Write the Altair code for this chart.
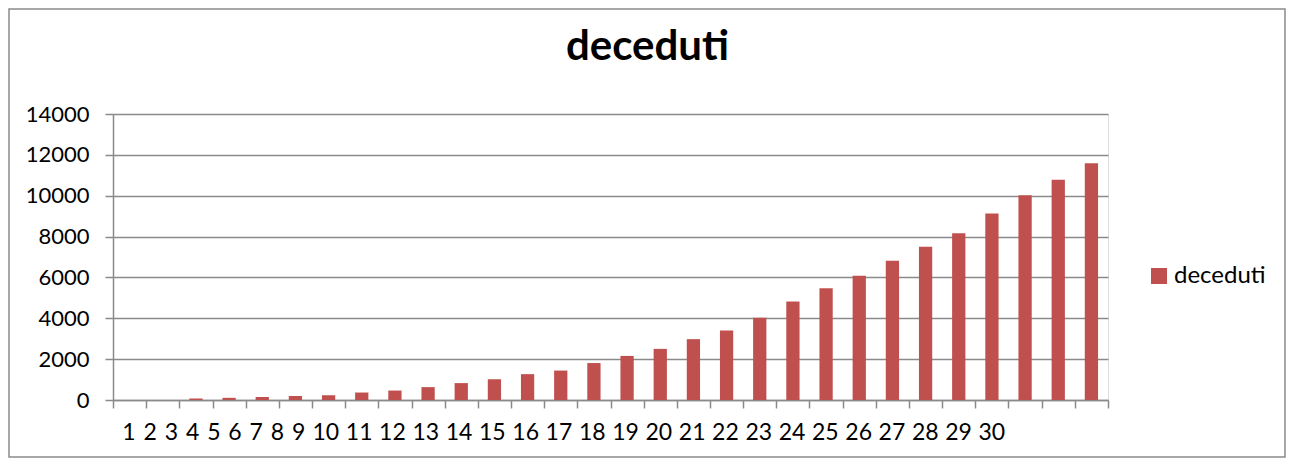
import altair as alt
import pandas as pd

# ---- data ----
giorni = list(range(1, 31))
deceduti = [0, 0, 79, 107, 148, 197, 233, 366, 463, 631, 827, 1016, 1266, 1441, 1809,
            2158, 2503, 2978, 3405, 4032, 4825, 5476, 6077, 6820, 7503, 8165, 9134,
            10023, 10779, 11591]
etichette_x = [str(g) for g in giorni]
serie = "deceduti"
titolo = "deceduti"
valori_y = [0, 2000, 4000, 6000, 8000, 10000, 12000, 14000]

FONT = "Lato"
GRAY = "#8a8a8a"
RED = "#C0504D"

W, H = 995, 286
PAD = {"left": 105, "top": 106, "right": 178, "bottom": 58}
TOTAL_W = W + PAD["left"] + PAD["right"]
TOTAL_H = H + PAD["top"] + PAD["bottom"]

df = pd.DataFrame({"giorno": giorni, "valore": deceduti, "serie": serie})
lab_df = pd.DataFrame({"ordine": giorni, "etichetta": etichette_x})
title_df = pd.DataFrame({"testo": [titolo]})

bars = alt.Chart(df).mark_bar(color=RED, width=alt.RelativeBandSize(0.4)).encode(
    x=alt.X(
        "giorno:O",
        sort=giorni,
        scale=alt.Scale(paddingInner=0, paddingOuter=0),
        axis=alt.Axis(
            title=None, labels=False, tickBand="extent", ticks=True, tickSize=8,
            tickColor=GRAY, tickWidth=1.5, domainColor=GRAY, domainWidth=1.5, grid=False,
        ),
    ),
    y=alt.Y(
        "valore:Q",
        scale=alt.Scale(domain=[0, 14000], nice=False),
        axis=alt.Axis(
            title=None, values=valori_y, format="d", labelFont=FONT, labelFontSize=22,
            labelColor="black", labelPadding=16, tickSize=8, tickColor=GRAY, tickWidth=1.5,
            domainColor=GRAY, domainWidth=1.5, grid=True, gridColor=GRAY, gridWidth=1.5,
        ),
    ),
    color=alt.Color(
        "serie:N",
        scale=alt.Scale(range=[RED]),
        legend=alt.Legend(
            title=None, orient="none", legendX=1034, legendY=150, padding=0,
            symbolType="square", symbolSize=256, symbolStrokeWidth=0, labelOffset=3,
            labelFont=FONT, labelFontSize=24, labelColor="black",
        ),
    ),
)

# category labels flow as a run of text under the axis, as in the source
x_labels = (
    alt.Chart(lab_df)
    .transform_calculate(w="length(datum.etichetta) * 12.1 + 9.1")
    .transform_window(cum="sum(w)", sort=[alt.SortField("ordine")], frame=[None, 0])
    .transform_calculate(pos="5.4 + datum.cum - datum.w / 2")
    .mark_text(font=FONT, fontSize=23, color="black", baseline="alphabetic", align="center")
    .encode(
        x=alt.X("pos:Q", scale=None, axis=None),
        y=alt.value(H + 40),
        text="etichetta:N",
    )
)

title_mark = (
    alt.Chart(title_df)
    .mark_text(font=FONT, fontSize=42, fontWeight="bold", color="black",
               baseline="alphabetic", align="center", clip=False)
    .encode(x=alt.value(W / 2 + 37), y=alt.value(-54), text="testo:N")
)

frame = (
    alt.Chart(pd.DataFrame({"k": [0]}))
    .mark_rect(fillOpacity=0, stroke=GRAY, strokeWidth=1.5, clip=False)
    .encode(
        x=alt.value(-PAD["left"] + 1),
        x2=alt.value(TOTAL_W - PAD["left"] - 1),
        y=alt.value(-PAD["top"] + 1),
        y2=alt.value(TOTAL_H - PAD["top"] - 1),
    )
)

chart = (
    alt.layer(frame, bars, x_labels, title_mark)
    .resolve_scale(x="independent")
    .properties(width=W, height=H, padding=PAD, autosize="none")
    .configure_view(stroke=None)
    .configure(font=FONT)
)

chart.save("out.html", embed_options={"renderer": "svg", "actions": False})
